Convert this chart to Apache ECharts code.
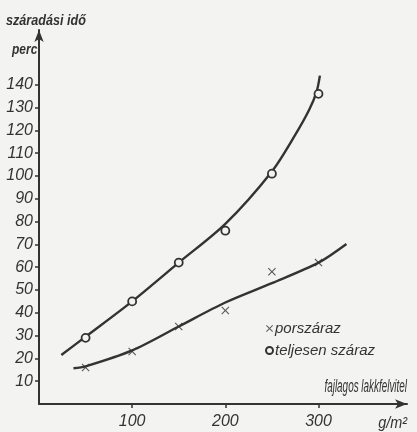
<!DOCTYPE html>
<html>
<head>
<meta charset="utf-8">
<script src="https://cdn.jsdelivr.net/npm/echarts@6/dist/echarts.min.js"></script>
<style>
html,body{margin:0;padding:0;background:#f3f3f1;}
#chart{width:417px;height:432px;}
</style>
</head>
<body>
<div id="chart"></div>
<script>
// measured points (g/m², perc)
var porszarazPoints = [[50,16],[100,23],[150,34],[200,41],[250,58],[300,62]];
var teljesenPoints = [[50,29],[100,45],[150,62],[200,76],[250,101],[300,136]];
// hand-drawn fitted curves
var porszarazCurve = [[37,15.7],[50,16.5],[100,23.5],[150,34],[200,44.5],[250,53],[300,62],[330,70.2]];
var teljesenCurve = [[24,21.5],[50,29.5],[100,45],[150,62],[200,79],[250,102],[275,118],[290,129],[298,137],[301.5,144]];
// tick labels
var yTicks = [10,20,30,40,50,60,70,80,90,100,110,120,130,140];
var xTicks = [100,200,300];
var seriesNames = ['porszáraz','teljesen száraz'];

var FONT = '"Liberation Sans",sans-serif';
var INK = '#333333';
var crossPath = 'path://M0,1L1,0L5,4L9,0L10,1L6,5L10,9L9,10L5,6L1,10L0,9L4,5Z';

var chart = echarts.init(document.getElementById('chart'), null, {renderer:'canvas'});
chart.setOption({
  backgroundColor: '#f3f3f1',
  animation: false,
  grid: {left: 39, right: 10, top: 30, bottom: 28, containLabel: false},
  xAxis: {
    type: 'value', min: 0, max: 395,
    axisLine: {show: true, lineStyle: {color: INK, width: 2}, symbol: ['none','arrow'], symbolSize: [7,12]},
    axisTick: {show: true, customValues: xTicks, length: 4, inside: false, lineStyle: {color: INK, width: 1.5}},
    axisLabel: {customValues: xTicks, margin: 10, color: INK, fontFamily: FONT, fontStyle: 'italic', fontSize: 16},
    splitLine: {show: false}
  },
  yAxis: {
    type: 'value', min: 0, max: 164,
    axisLine: {show: true, lineStyle: {color: INK, width: 2}, symbol: ['none','arrow'], symbolSize: [7,12]},
    axisTick: {show: true, customValues: yTicks, length: 4, inside: false, lineStyle: {color: INK, width: 1.5}},
    axisLabel: {customValues: yTicks, margin: 6, color: INK, fontFamily: FONT, fontStyle: 'italic', fontSize: 16},
    splitLine: {show: false}
  },
  legend: {
    orient: 'vertical', left: 260, top: 316, itemGap: 7,
    itemWidth: 7, itemHeight: 7,
    textStyle: {color: INK, fontFamily: FONT, fontStyle: 'italic', fontSize: 15, padding: [0,0,0,-3]},
    data: [
      {name: seriesNames[0], icon: crossPath},
      {name: seriesNames[1], icon: 'circle'}
    ]
  },
  graphic: [
    {type: 'text', x: 6, y: 21, scaleX: 0.9,
     style: {x: 0, y: 0, text: 'száradási idő', fill: INK, font: 'italic bold 14px ' + FONT, align: 'left', verticalAlign: 'middle'}},
    {type: 'text', x: 12, y: 50, scaleX: 0.8,
     style: {x: 0, y: 0, text: 'perc', fill: INK, font: 'italic bold 15px ' + FONT, align: 'left', verticalAlign: 'middle'}},
    {type: 'text', x: 407, y: 387, scaleX: 0.55,
     style: {x: 0, y: 0, text: 'fajlagos lakkfelvitel', fill: INK, font: 'italic 18px ' + FONT, align: 'right', verticalAlign: 'middle'}},
    {type: 'text', x: 407, y: 424, scaleX: 0.9,
     style: {x: 0, y: 0, text: 'g/m²', fill: INK, font: 'italic 16px ' + FONT, align: 'right', verticalAlign: 'middle'}}
  ],
  series: [
    {name: 'porszáraz görbe', type: 'line', data: porszarazCurve, smooth: 0.3, showSymbol: false, silent: true,
     lineStyle: {color: INK, width: 2.4}, z: 2},
    {name: 'teljesen száraz görbe', type: 'line', data: teljesenCurve, smooth: 0.3, showSymbol: false, silent: true,
     lineStyle: {color: INK, width: 2.4}, z: 2},
    {name: seriesNames[0], type: 'scatter', data: porszarazPoints, symbol: crossPath, symbolSize: 8,
     itemStyle: {color: INK}, z: 3},
    {name: seriesNames[1], type: 'scatter', data: teljesenPoints, symbol: 'circle', symbolSize: 8,
     itemStyle: {color: '#f3f3f1', borderColor: INK, borderWidth: 1.8, opacity: 1}, z: 3}
  ]
});
</script>
</body>
</html>
